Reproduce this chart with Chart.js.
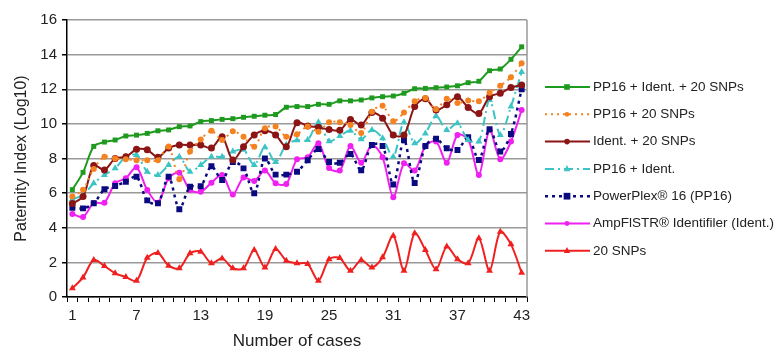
<!DOCTYPE html>
<html>
<head>
<meta charset="utf-8">
<script src="https://cdn.jsdelivr.net/npm/chart.js@4.4.0/dist/chart.umd.min.js"></script>
<style>
  html, body { margin: 0; padding: 0; background: #fff; }
  #chart { display: block; }
</style>
</head>
<body>
<canvas id="chart" width="777" height="352"></canvas>
<script>
// cases 1..43
const cases = ['1','2','3','4','5','6','7','8','9','10','11','12','13','14','15','16','17','18','19','20',
  '21','22','23','24','25','26','27','28','29','30','31','32','33','34','35','36','37','38','39','40','41','42','43'];

// Paternity index (log10) per case
const pp16Ident20 = [6.2, 7.2, 8.7, 8.95, 9.07, 9.3, 9.35, 9.45, 9.6, 9.65, 9.84, 9.88, 10.13, 10.19, 10.26, 10.3, 10.38, 10.44, 10.5, 10.54,
  10.96, 11.0, 11.0, 11.13, 11.13, 11.33, 11.33, 11.38, 11.5, 11.57, 11.61, 11.77, 12.03, 12.05, 12.09, 12.13, 12.2, 12.38, 12.46, 13.07, 13.17, 13.73, 14.45];
const pp16Snps = [5.8, 6.2, 7.4, 8.1, 8.0, 7.95, 7.9, 7.9, 7.9, 8.7, 6.8, 8.4, 9.1, 9.6, 9.07, 9.57, 9.25, 8.68, 9.75, 9.85,
  9.26, 9.4, 9.85, 9.55, 10.1, 10.1, 9.94, 9.47, 10.7, 11.05, 10.15, 10.65, 11.3, 11.5, 10.85, 11.45, 11.2, 11.35, 11.3, 11.8, 12.2, 12.7, 13.5];
const identSnps = [5.4, 5.8, 7.6, 7.34, 8.0, 8.1, 8.53, 8.5, 8.07, 8.6, 8.78, 8.78, 8.78, 8.6, 9.25, 7.91, 8.68, 9.36, 9.6, 9.36,
  8.68, 10.07, 9.88, 9.8, 9.67, 9.63, 10.25, 9.94, 10.65, 10.32, 9.36, 9.36, 11.0, 11.45, 10.8, 11.1, 11.57, 10.95, 10.6, 11.57, 11.77, 12.1, 12.25];
const pp16Ident = [5.64, 5.9, 6.57, 7.05, 7.43, 8.1, 8.2, 7.24, 7.05, 7.63, 8.1, 7.24, 7.63, 8.1, 8.1, 8.4, 8.5, 7.63, 8.65, 7.8,
  8.8, 9.05, 9.07, 10.1, 9.0, 9.3, 9.61, 9.11, 9.65, 9.17, 8.1, 10.1, 8.88, 9.45, 10.45, 9.65, 10.03, 9.07, 8.98, 11.38, 9.36, 11.0, 13.0];
const pp16 = [5.15, 5.12, 5.41, 6.22, 6.41, 6.66, 6.95, 5.58, 5.41, 6.95, 5.07, 6.37, 6.4, 7.55, 6.76, 7.8, 7.43, 5.99, 8.0, 7.07,
  7.07, 7.24, 7.9, 8.55, 7.8, 7.75, 8.26, 7.32, 8.78, 8.72, 6.5, 9.07, 6.58, 8.72, 9.14, 8.59, 8.49, 9.23, 7.91, 9.69, 8.4, 9.42, 12.0];
const ident = [4.8, 4.62, 5.43, 5.45, 6.57, 6.86, 7.49, 6.18, 5.45, 6.86, 7.18, 6.18, 6.08, 6.6, 7.05, 5.92, 6.9, 6.7, 7.3, 6.57,
  6.53, 7.95, 8.07, 8.88, 7.45, 7.3, 8.72, 7.76, 8.78, 8.07, 5.76, 7.72, 7.3, 8.72, 8.98, 7.76, 9.36, 9.11, 7.05, 9.65, 7.95, 8.98, 10.8];
const snps20 = [0.5, 1.13, 2.14, 1.79, 1.37, 1.15, 0.94, 2.26, 2.54, 1.81, 1.66, 2.52, 2.62, 1.95, 2.23, 1.66, 1.66, 2.72, 1.71, 2.77,
  2.1, 1.95, 1.91, 0.94, 2.18, 2.25, 1.52, 2.14, 1.71, 2.29, 3.54, 1.52, 3.68, 2.72, 1.6, 2.91, 2.18, 1.95, 3.39, 1.52, 3.77, 3.04, 1.4];

const yTicks = [0, 2, 4, 6, 8, 10, 12, 14, 16];
const FONT = 'Arial, "Liberation Sans", sans-serif';

function series(label, data, color, style, radius, dash, width) {
  return {
    label: label, data: data,
    borderColor: color, backgroundColor: color,
    borderWidth: width || 2, borderDash: dash || [],
    pointStyle: style, pointRadius: radius, pointBorderWidth: 0,
    pointBackgroundColor: color, tension: 0.3
  };
}

const datasets = [
  series('PP16 + Ident. + 20 SNPs', pp16Ident20, '#1e9a1e', 'rect', 3.5),
  series('PP16 + 20 SNPs', pp16Snps, '#f58220', 'circle', 3, [2, 4]),
  series('Ident. + 20 SNPs', identSnps, '#8b1515', 'circle', 3.5),
  series('PP16 + Ident.', pp16Ident, '#3cc4c4', 'triangle', 4, [9, 4, 2, 4]),
  series('PowerPlex® 16 (PP16)', pp16, '#0a0a80', 'rect', 4.2, [3, 4], 2.5),
  series('AmpFlSTR® Identifiler (Ident.)', ident, '#f020f0', 'circle', 3),
  series('20 SNPs', snps20, '#f02020', 'triangle', 4)
];

// legend at the right, line + marker + text
const sideLegend = {
  id: 'sideLegend',
  afterDraw(chart) {
    const ctx = chart.ctx;
    const area = chart.chartArea;
    ctx.save();
    ctx.strokeStyle = '#999';
    ctx.lineWidth = 1.5;
    ctx.beginPath();
    ctx.moveTo(area.right, area.top);
    ctx.lineTo(area.right, area.bottom);
    ctx.stroke();
    chart.data.datasets.forEach((ds, i) => {
      const y = 87 + i * 27.3;
      ctx.strokeStyle = ds.borderColor;
      ctx.lineWidth = ds.borderWidth;
      ctx.setLineDash(ds.borderDash);
      ctx.beginPath();
      ctx.moveTo(545, y);
      ctx.lineTo(590, y);
      ctx.stroke();
      ctx.setLineDash([]);
      ctx.fillStyle = ds.borderColor;
      const r = ds.pointRadius * 0.8;
      ctx.beginPath();
      if (ds.pointStyle === 'rect') {
        ctx.rect(567 - r, y - r, 2 * r, 2 * r);
      } else if (ds.pointStyle === 'triangle') {
        ctx.moveTo(567, y - r * 1.2);
        ctx.lineTo(567 + r, y + r * 0.7);
        ctx.lineTo(567 - r, y + r * 0.7);
        ctx.closePath();
      } else {
        ctx.arc(567, y, r, 0, Math.PI * 2);
      }
      ctx.fill();
      ctx.fillStyle = '#222';
      ctx.font = '13.5px ' + FONT;
      ctx.textBaseline = 'middle';
      ctx.fillText(ds.label, 593, y);
    });
    ctx.restore();
  }
};

new Chart(document.getElementById('chart'), {
  type: 'line',
  data: { labels: cases, datasets: datasets },
  plugins: [sideLegend],
  options: {
    responsive: false,
    animation: false,
    devicePixelRatio: 1,
    layout: { padding: { top: 20, right: 250, bottom: 0, left: 12 } },
    plugins: { legend: { display: false }, tooltip: { enabled: false } },
    scales: {
      x: {
        offset: true,
        grid: { offset: true, drawOnChartArea: false, color: '#000', tickLength: 5 },
        border: { color: '#000', width: 1.5 },
        ticks: {
          autoSkip: false, maxRotation: 0, padding: 5, color: '#222',
          font: { size: 15, family: FONT },
          callback: (v, i) => (i % 6 === 0 ? cases[i] : '')
        },
        title: { display: true, text: 'Number of cases', color: '#222', font: { size: 17, family: FONT }, padding: { top: 4, bottom: 0 } },
        afterFit: s => { s.height = 55; }
      },
      y: {
        min: 0, max: 16,
        afterBuildTicks: s => { s.ticks = yTicks.map(v => ({ value: v })); },
        grid: { color: '#999', lineWidth: 1.5, tickColor: '#000', tickLength: 5 },
        border: { color: '#000', width: 1.5 },
        ticks: { color: '#222', padding: 5, font: { size: 15, family: FONT } },
        title: { display: true, text: 'Paternity Index (Log10)', color: '#222', font: { size: 16, family: FONT }, padding: 0 },
        afterFit: s => { s.width = 55; }
      }
    }
  }
});
</script>
</body>
</html>
